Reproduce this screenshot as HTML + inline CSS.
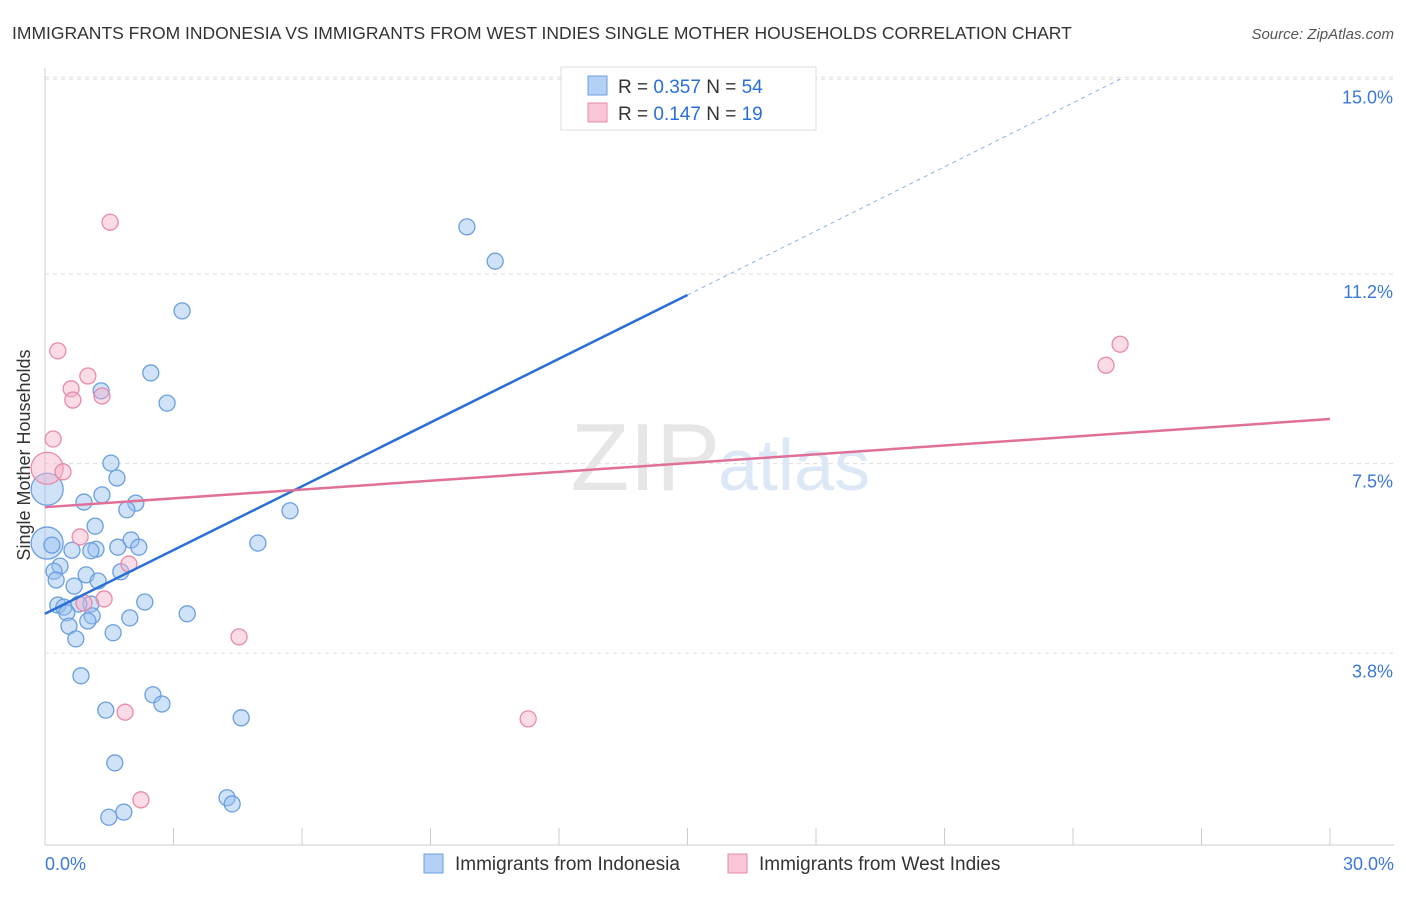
<!DOCTYPE html>
<html><head><meta charset="utf-8"><style>
body{margin:0;background:#fff;font-family:"Liberation Sans",sans-serif;}
svg text{font-family:"Liberation Sans",sans-serif;}
</style></head><body>
<svg width="1406" height="892" viewBox="0 0 1406 892">
<text x="12" y="39" font-size="17.5" fill="#333">IMMIGRANTS FROM INDONESIA VS IMMIGRANTS FROM WEST INDIES SINGLE MOTHER HOUSEHOLDS CORRELATION CHART</text>
<text x="1394" y="39" font-size="15" fill="#555" font-style="italic" text-anchor="end">Source: ZipAtlas.com</text>
<g id="grid"></g>
<text x="720" y="490" font-size="96" fill="#e6e6e6" text-anchor="end" font-family="Liberation Serif">ZIP</text>
<text x="718" y="490" font-size="72" fill="#dce8f6">atlas</text>
<text x="30" y="455" font-size="18" fill="#333" text-anchor="middle" transform="rotate(-90 30 455)">Single Mother Households</text>
<g id="marks"></g>
<g>
<rect x="561" y="67" width="255" height="63" fill="#fff" stroke="#ddd"/>
<rect x="588" y="76" width="19" height="19" fill="#b4d0f4" stroke="#6a9fe0"/>
<text x="618" y="93" font-size="19" fill="#333">R = <tspan fill="#2a6fd6">0.357</tspan>   N = <tspan fill="#2a6fd6">54</tspan></text>
<rect x="588" y="103" width="19" height="19" fill="#f8c6d6" stroke="#e88aa8"/>
<text x="618" y="120" font-size="19" fill="#333">R = <tspan fill="#2a6fd6"> 0.147</tspan>   N = <tspan fill="#2a6fd6"> 19</tspan></text>
</g>
<g>
<rect x="424" y="854" width="19" height="19" fill="#b4d0f4" stroke="#6a9fe0"/>
<text x="455" y="870" font-size="19" fill="#333">Immigrants from Indonesia</text>
<rect x="728" y="854" width="19" height="19" fill="#f8c6d6" stroke="#e88aa8"/>
<text x="759" y="870" font-size="19" fill="#333">Immigrants from West Indies</text>
</g>
</svg>
<script>
const yTicks=[3.8,7.5,11.2,15.0];
const yTickLabels=["3.8%","7.5%","11.2%","15.0%"];
const xTickCount=10;
const xLabels=["0.0%","30.0%"];
const blueX=[9.85,10.51,3.20,2.47,2.85,1.31,1.54,1.68,1.33,0.91,2.12,1.91,5.72,1.17,4.97,2.01,2.19,1.70,1.19,1.07,0.63,0.05,0.16,0.35,0.21,1.77,0.96,0.26,1.24,0.68,2.33,1.07,0.79,0.30,0.44,0.51,1.10,1.98,3.32,1.00,0.56,1.59,0.72,0.84,2.52,2.73,1.42,4.58,1.63,4.25,4.37,1.84,1.49,0.05];
const blueY=[12.12,11.45,10.48,9.27,8.68,8.92,7.51,7.22,6.89,6.75,6.73,6.60,6.58,6.28,5.95,6.01,5.87,5.87,5.83,5.80,5.81,5.95,5.91,5.50,5.40,5.39,5.33,5.23,5.21,5.11,4.80,4.76,4.76,4.74,4.70,4.59,4.53,4.49,4.57,4.43,4.33,4.20,4.08,3.36,2.99,2.81,2.69,2.54,1.66,0.98,0.86,0.70,0.60,7.00];
const blueBig=[21,53];
const pinkX=[1.52,0.30,1.00,0.61,1.33,0.65,0.19,0.05,0.42,0.82,1.96,1.38,0.91,4.53,1.87,2.24,11.28,24.77,25.10];
const pinkY=[12.21,9.70,9.21,8.96,8.82,8.74,7.98,7.41,7.34,6.07,5.54,4.86,4.78,4.12,2.65,0.94,2.52,9.42,9.83];
const pinkBig=[7];
const blueTrend=[4.57,10.79,15.0]; // y at x=0, x=15, dashed end
const blueTrendX=[0,15,25.1];
const pinkTrend=[6.65,8.37]; // y at x=0, x=30
const X=v=>45+v*(1285/30);
const Y=v=>848-v*51.25;
const NS="http://www.w3.org/2000/svg";
function mk(t,a,p){const e=document.createElementNS(NS,t);for(const k in a)e.setAttribute(k,a[k]);p.appendChild(e);return e;}
const grid=document.getElementById('grid');
yTicks.forEach((t,i)=>{
 const l=mk('line',{x1:45,x2:1394,y1:Y(t),y2:Y(t),stroke:'#ddd','stroke-dasharray':'4,4'},grid);
 
 
 const tx=mk('text',{x:1393,y:Y(t)+24,'font-size':18,fill:'#3a78d8','text-anchor':'end'},grid);
 tx.textContent=yTickLabels[i];
 
 
});
const tl=mk('line',{x1:45,x2:1394,y1:Y(15)-2,y2:Y(15)-2,stroke:'#ddd','stroke-dasharray':'4,4'},grid);
const ax=mk('line',{x1:45,x2:45,y1:68,y2:845,stroke:'#ccc'},grid);


const bx=mk('line',{x1:45,x2:1394,y1:845,y2:845,stroke:'#ccc'},grid);


for(let i=1;i<=xTickCount;i++){const v=i*30/xTickCount;
 const t=mk('line',{x1:X(v),x2:X(v),y1:828,y2:845,stroke:'#ccc'},grid);
 
 }
[[0,'start',45],[30,'end',1394]].forEach((d,i)=>{
 const t=mk('text',{x:d[2],y:870,'font-size':18,fill:'#3a78d8','text-anchor':d[1]},grid);
 t.textContent=xLabels[i];
 
 });
const marks=document.getElementById('marks');
blueX.forEach((x,i)=>{const r=blueBig.includes(i)?16:8;
 const c=mk('circle',{cx:X(x),cy:Y(blueY[i]),r:r,fill:'rgba(150,190,240,0.45)',stroke:'#6a9fe0','stroke-width':1.3},marks);
 
 });
pinkX.forEach((x,i)=>{const r=pinkBig.includes(i)?16:8;
 const c=mk('circle',{cx:X(x),cy:Y(pinkY[i]),r:r,fill:'rgba(245,175,200,0.45)',stroke:'#e88aa8','stroke-width':1.3},marks);
 
 });
const b1=mk('line',{x1:X(blueTrendX[0]),y1:Y(blueTrend[0]),x2:X(blueTrendX[1]),y2:Y(blueTrend[1]),stroke:'#2a6fd6','stroke-width':2.5},marks);


const b2=mk('line',{x1:X(blueTrendX[1]),y1:Y(blueTrend[1]),x2:X(blueTrendX[2]),y2:Y(blueTrend[2]),stroke:'#8ab0e8','stroke-width':1,'stroke-dasharray':'4,4'},marks);


const p1=mk('line',{x1:X(0),y1:Y(pinkTrend[0]),x2:X(30),y2:Y(pinkTrend[1]),stroke:'#e07098','stroke-width':2.5},marks);


</script>
</body></html>
